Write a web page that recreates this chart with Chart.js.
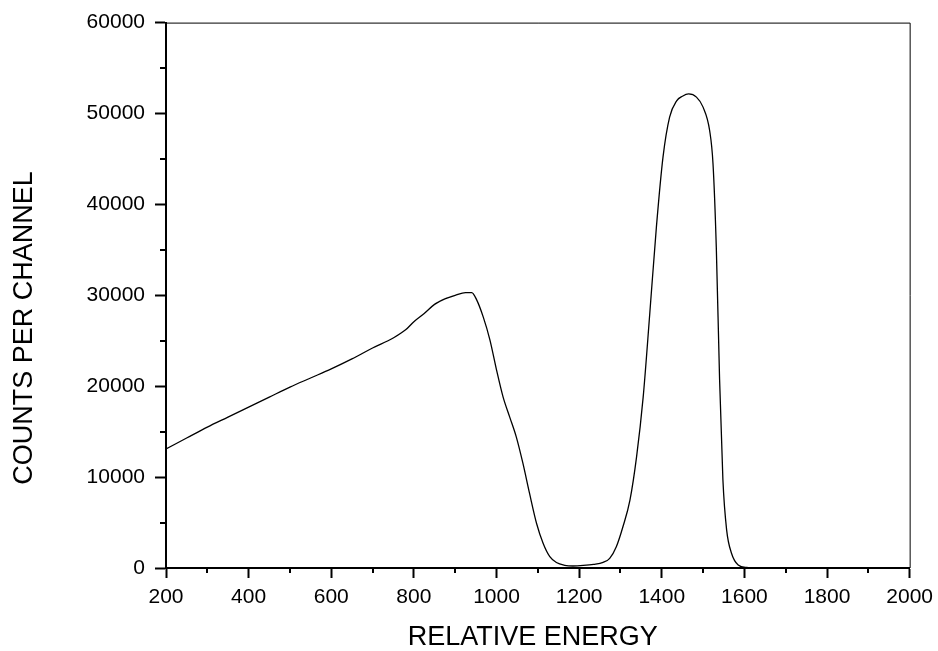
<!DOCTYPE html>
<html>
<head>
<meta charset="utf-8">
<script src="https://cdn.jsdelivr.net/npm/chart.js@4/dist/chart.umd.min.js"></script>
<style>
  html, body { margin: 0; padding: 0; background: #fff; }
  #wrap { width: 938px; height: 651px; position: relative; }
</style>
</head>
<body>
<div id="wrap"><canvas id="c" width="938" height="651"></canvas></div>
<script>
// Data
const energy = [200, 250, 300, 350, 400, 450, 500, 550, 600, 650, 700, 750, 780, 800, 825, 850, 875, 900, 925, 940,
  952, 968, 984, 1000, 1016, 1032, 1048, 1064, 1080, 1097, 1113, 1129, 1145, 1165, 1185, 1210, 1235, 1258, 1274, 1290,
  1306, 1323, 1339, 1355, 1371, 1387, 1403, 1419, 1436, 1450, 1465, 1484, 1500, 1516, 1524, 1532, 1540, 1548, 1557, 1569,
  1585, 1605, 1640, 1700, 2000];
const counts = [13100, 14300, 15500, 16600, 17700, 18800, 19900, 20900, 21900, 23000, 24200, 25300, 26200, 27100, 28000, 29000, 29600, 30000, 30300, 30300,
  29500, 27600, 25100, 21800, 18800, 16600, 14400, 11500, 8200, 4900, 2700, 1250, 600, 300, 220, 280, 400, 620, 1060, 2340,
  4540, 7470, 12230, 18800, 28000, 37500, 45200, 49600, 51400, 51900, 52150, 51800, 50700, 48100, 44500, 35300, 20700, 9700, 4200, 1600,
  330, 60, 20, 0, 0];
const xTitle = 'RELATIVE ENERGY';
const yTitle = 'COUNTS PER CHANNEL';
const xMin = 200, xMax = 2000, xMajor = 200, xMinor = 100;
const yMin = 0, yMax = 60000, yMajor = 10000, yMinor = 5000;

const FONT = '"Liberation Sans", Arial, Helvetica, sans-serif';

const points = energy.map((e, i) => ({ x: e, y: counts[i] }));

const framePlugin = {
  id: 'frame',
  afterDraw(chart) {
    const ctx = chart.ctx;
    const a = chart.chartArea;
    const xs = chart.scales.x, ys = chart.scales.y;
    ctx.save();
    ctx.strokeStyle = '#000';
    // thin top and right frame
    ctx.lineWidth = 1;
    ctx.beginPath();
    ctx.moveTo(a.left, a.top + 0.5);
    ctx.lineTo(a.right + 0.5, a.top + 0.5);
    ctx.lineTo(a.right + 0.5, a.bottom);
    ctx.stroke();
    // minor ticks
    ctx.lineWidth = 2;
    ctx.beginPath();
    xs.ticks.forEach(t => {
      if (t.value % xMajor !== 0) {
        const px = Math.round(xs.getPixelForValue(t.value));
        ctx.moveTo(px, a.bottom);
        ctx.lineTo(px, a.bottom + 5);
      }
    });
    ys.ticks.forEach(t => {
      if (t.value % yMajor !== 0) {
        const py = Math.round(ys.getPixelForValue(t.value));
        ctx.moveTo(a.left, py);
        ctx.lineTo(a.left - 6, py);
      }
    });
    ctx.stroke();
    // axis titles
    ctx.fillStyle = '#000';
    ctx.font = '27px ' + FONT;
    ctx.textAlign = 'center';
    ctx.textBaseline = 'middle';
    ctx.fillText(xTitle, (a.left + a.right) / 2 - 5, 638);
    ctx.translate(25, 328);
    ctx.rotate(-Math.PI / 2);
    ctx.fillText(yTitle, 0, 0);
    ctx.restore();
  }
};

new Chart(document.getElementById('c'), {
  type: 'line',
  data: {
    datasets: [{
      data: points,
      borderColor: '#000',
      borderWidth: 1.3,
      pointRadius: 0,
      fill: false,
      cubicInterpolationMode: 'monotone'
    }]
  },
  options: {
    responsive: false,
    animation: false,
    devicePixelRatio: 1,
    layout: { padding: { top: 22, right: 28, left: 0, bottom: 0 } },
    plugins: { legend: { display: false }, tooltip: { enabled: false } },
    scales: {
      x: {
        type: 'linear',
        min: xMin, max: xMax,
        afterFit(s) { s.height = 83; },
        border: { display: true, color: '#000', width: 2 },
        grid: {
          display: true, drawOnChartArea: false, drawTicks: true, tickLength: 10, tickWidth: 2,
          tickColor: c => (c.tick && c.tick.value % xMajor === 0) ? '#000' : 'rgba(0,0,0,0)'
        },
        ticks: {
          stepSize: xMinor, autoSkip: false, maxRotation: 0, padding: 5,
          color: '#000', font: { family: FONT, size: 21, lineHeight: 1.4 },
          callback: v => (v % xMajor === 0 ? String(v) : '')
        }
      },
      y: {
        type: 'linear',
        min: yMin, max: yMax,
        afterFit(s) { s.width = 166; },
        border: { display: true, color: '#000', width: 2 },
        grid: {
          display: true, drawOnChartArea: false, drawTicks: true, tickLength: 11, tickWidth: 2,
          tickColor: c => (c.tick && c.tick.value % yMajor === 0) ? '#000' : 'rgba(0,0,0,0)'
        },
        ticks: {
          stepSize: yMinor, autoSkip: false, padding: 10,
          color: '#000', font: { family: FONT, size: 21 },
          callback: v => (v % yMajor === 0 ? String(v) : '')
        }
      }
    }
  },
  plugins: [framePlugin]
});
</script>
</body>
</html>
